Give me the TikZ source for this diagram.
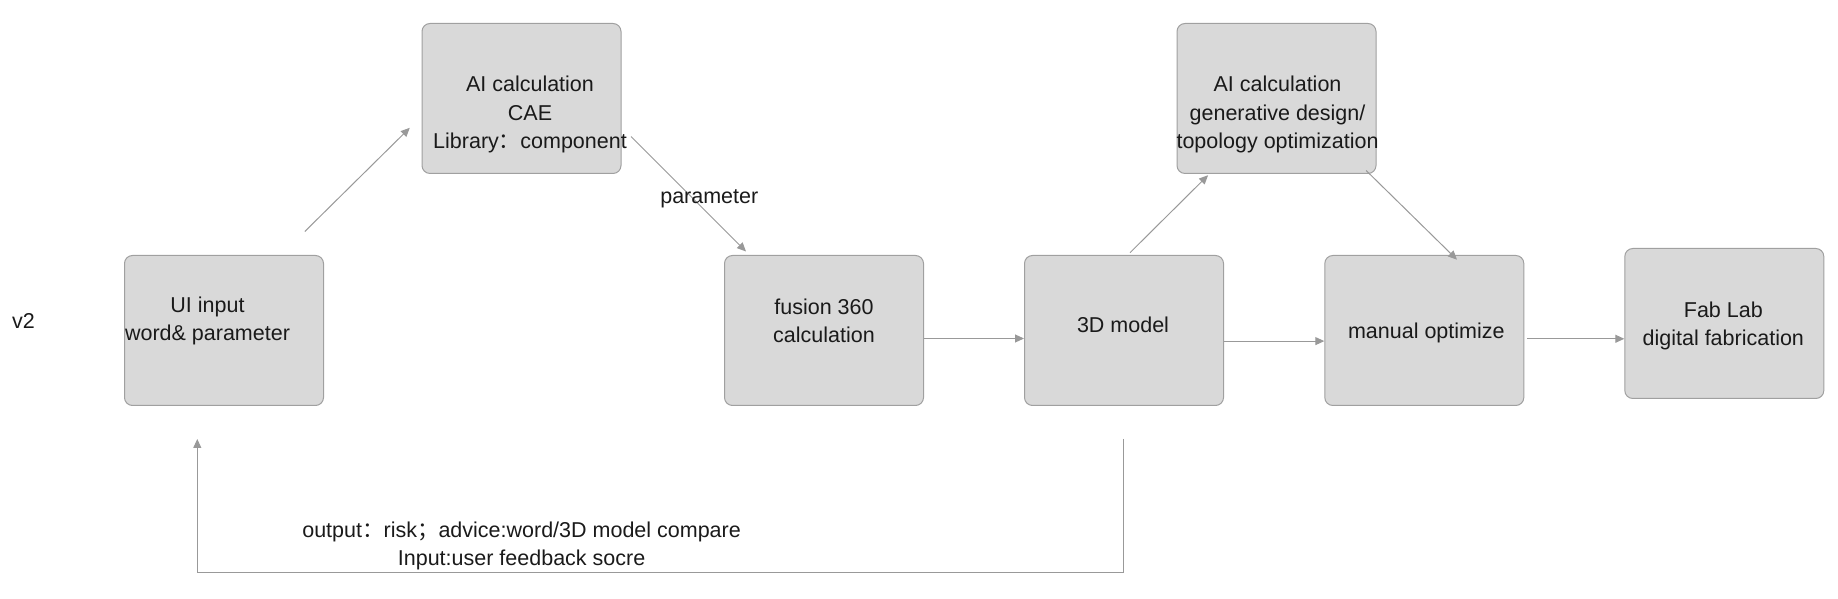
\documentclass[tikz,border=0pt]{standalone}
\usepackage{fontspec}
\setmainfont{Liberation Sans}
\newfontfamily\cjk{Noto Sans CJK SC}
\usepackage{tikz}
\usetikzlibrary{arrows.meta}
\definecolor{boxfill}{HTML}{D9D9D9}
\definecolor{boxline}{HTML}{A0A0A0}
\definecolor{flowgray}{HTML}{999999}
\definecolor{inkblack}{HTML}{1A1A1A}
\tikzstyle{blk}=[rectangle, rounded corners=8pt, draw=boxline, fill=boxfill, line width=1pt, minimum width=199pt, minimum height=150pt, inner sep=0pt]
\tikzstyle{txt}=[align=center, text=inkblack, inner sep=0pt, font=\fontsize{21.5}{28.1}\selectfont]
\tikzstyle{flow}=[draw=flowgray, line width=1pt, -{Triangle[length=9pt,width=8pt]}]

\begin{document}
\begin{tikzpicture}[x=1pt, y=1pt]
    \useasboundingbox (0,0) rectangle (1838,599);

    \node[txt] (ver) at (23.4,278.5) {v2};

    \node[blk] (ui) at (224,268.5) {};
    \node[blk] (ai1) at (521.5,500.5) {};
    \node[blk] (fus) at (824,268.5) {};
    \node[blk] (mdl) at (1124,268.5) {};
    \node[blk] (ai2) at (1276.5,500.5) {};
    \node[blk] (man) at (1424.3,268.5) {};
    \node[blk] (fab) at (1724.3,275.5) {};

    \node[txt] (uitxt) at ([shift={(-16.5,9.5)}]ui.center) {UI input\\word\& parameter};
    \node[txt] (ai1txt) at ([shift={(8.5,-16)}]ai1.center) {AI calculation\\CAE\\Library{\cjk ：}component};
    \node[txt] (fustxt) at ([shift={(0,9.5)}]fus.center) {fusion 360\\calculation};
    \node[txt] (mdltxt) at ([shift={(-1,5.5)}]mdl.center) {3D model};
    \node[txt] (ai2txt) at ([shift={(1,-16)}]ai2.center) {AI calculation\\generative design/\\topology optimization};
    \node[txt] (mantxt) at ([shift={(2,-2)}]man.center) {manual optimize};
    \node[txt] (fabtxt) at ([shift={(-1,-2)}]fab.center) {Fab Lab\\digital fabrication};

    \draw[flow] ([shift={(80.8,23.5)}]ui.north) -- ([shift={(-11.7,-29.3)}]ai1.west);
    \draw[flow] ([shift={(9.5,-38)}]ai1.east) -- ([shift={(22,3.5)}]fus.north west)
        node[txt, pos=.62, xshift=7pt, yshift=9pt] (par) {parameter};
    \draw[flow] ([yshift=-8]fus.east) -- ([yshift=-8]mdl.west);
    \draw[flow] ([shift={(6,2.3)}]mdl.north) -- ([shift={(31.6,-1.2)}]ai2.south west);
    \draw[flow] ([shift={(-10.4,3.5)}]ai2.south east) -- ([shift={(32.7,-4.7)}]man.north);
    \draw[flow] ([yshift=-10.6]mdl.east) -- ([yshift=-10.6]man.west);
    \draw[flow] ([shift={(3,-8.3)}]man.east) -- ([yshift=-15.3]fab.west);

    % feedback loop back to the input
    \draw[flow] ([shift={(-1,-33)}]mdl.south) -- ++(0,-133.6) -| ([shift={(-26.7,-33)}]ui.south);
    \node[txt] (fb) at (521.6,53) {output{\cjk ：}risk{\cjk ；}advice:word/3D model compare\\Input:user feedback socre};
\end{tikzpicture}
\end{document}
